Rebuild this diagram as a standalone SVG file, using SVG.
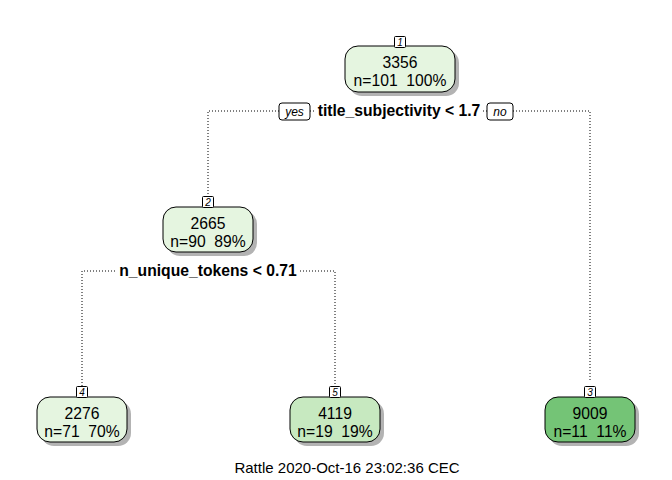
<svg xmlns="http://www.w3.org/2000/svg" width="672" height="480" viewBox="0 0 672 480">
  <style>
    .shadow { fill: #b3b3b3; }
    .box { stroke: #000; stroke-width: 1; }
    .n-pale { fill: #e5f5e0; }
    .n-light { fill: #c7e9c0; }
    .n-mid { fill: #74c476; }
    .num { fill: #fff; stroke: #000; stroke-width: 1; }
    .numtxt { font-family: "Liberation Sans", Arial, sans-serif; font-size: 10px; font-style: italic; text-anchor: middle; }
    .val { font-family: "Liberation Sans", Arial, sans-serif; font-size: 15.7px; text-anchor: middle; fill: #000; white-space: pre; }
    .split { font-family: "Liberation Sans", Arial, sans-serif; font-size: 15.7px; font-weight: bold; text-anchor: middle; fill: #000; }
    .yn { font-family: "Liberation Sans", Arial, sans-serif; font-size: 12px; font-style: italic; text-anchor: middle; }
    .edge { fill: none; stroke: #000; stroke-width: 1; stroke-dasharray: 1 2; }
    .footer { font-family: "Liberation Sans", Arial, sans-serif; font-size: 15px; text-anchor: middle; fill: #000; }
  </style>
  <rect width="672" height="480" fill="#fff"/>

  <g id="connectors">
    <path class="edge" d="M208,197 V111 H279 M310,111 H316"/>
    <path class="edge" d="M483,111 H487 M513,111 H590 V382"/>
    <path class="edge" d="M82,386 V271 H117"/>
    <path class="edge" d="M300,271 H335 V386"/>
  </g>

  <g id="split1">
    <rect x="279" y="103" width="31" height="17" rx="3" fill="#fff" stroke="#000"/>
    <text class="yn" x="294.5" y="116">yes</text>
    <text class="split" x="399" y="116">title_subjectivity &lt; 1.7</text>
    <rect x="487" y="103" width="26" height="17" rx="3" fill="#fff" stroke="#000"/>
    <text class="yn" x="500" y="116">no</text>
  </g>

  <g id="split2">
    <text class="split" x="208" y="276">n_unique_tokens &lt; 0.71</text>
  </g>

  <g id="node1">
    <rect class="shadow" x="349" y="50" width="110" height="46" rx="13"/>
    <rect class="box n-pale" x="345" y="46" width="110" height="46" rx="13"/>
    <rect class="num" x="394.5" y="36.5" width="11" height="11" rx="1"/>
    <text class="numtxt" x="400" y="45.5">1</text>
    <text class="val" x="400" y="68">3356</text>
    <text class="val" x="400" y="86" xml:space="preserve">n=101  100%</text>
  </g>

  <g id="node2">
    <rect class="shadow" x="167" y="211" width="90" height="45" rx="13"/>
    <rect class="box n-pale" x="163" y="207" width="90" height="45" rx="13"/>
    <rect class="num" x="202.5" y="196.5" width="11" height="11" rx="1"/>
    <text class="numtxt" x="208" y="205.5">2</text>
    <text class="val" x="208" y="229">2665</text>
    <text class="val" x="208" y="247" xml:space="preserve">n=90  89%</text>
  </g>

  <g id="node4">
    <rect class="shadow" x="41" y="401" width="90" height="45" rx="13"/>
    <rect class="box n-pale" x="37" y="397" width="90" height="45" rx="13"/>
    <rect class="num" x="76.5" y="386.5" width="11" height="11" rx="1"/>
    <text class="numtxt" x="82" y="395.5">4</text>
    <text class="val" x="82" y="419">2276</text>
    <text class="val" x="82" y="437" xml:space="preserve">n=71  70%</text>
  </g>

  <g id="node5">
    <rect class="shadow" x="294" y="401" width="90" height="45" rx="13"/>
    <rect class="box n-light" x="290" y="397" width="90" height="45" rx="13"/>
    <rect class="num" x="329.5" y="386.5" width="11" height="11" rx="1"/>
    <text class="numtxt" x="335" y="395.5">5</text>
    <text class="val" x="335" y="419">4119</text>
    <text class="val" x="335" y="437" xml:space="preserve">n=19  19%</text>
  </g>

  <g id="node3">
    <rect class="shadow" x="549" y="401" width="90" height="45" rx="13"/>
    <rect class="box n-mid" x="545" y="397" width="90" height="45" rx="13"/>
    <rect class="num" x="584.5" y="386.5" width="11" height="11" rx="1"/>
    <text class="numtxt" x="590" y="395.5">3</text>
    <text class="val" x="590" y="419">9009</text>
    <text class="val" x="590" y="437" xml:space="preserve">n=11  11%</text>
  </g>

  <text class="footer" x="347" y="473">Rattle 2020-Oct-16 23:02:36 CEC</text>
</svg>
